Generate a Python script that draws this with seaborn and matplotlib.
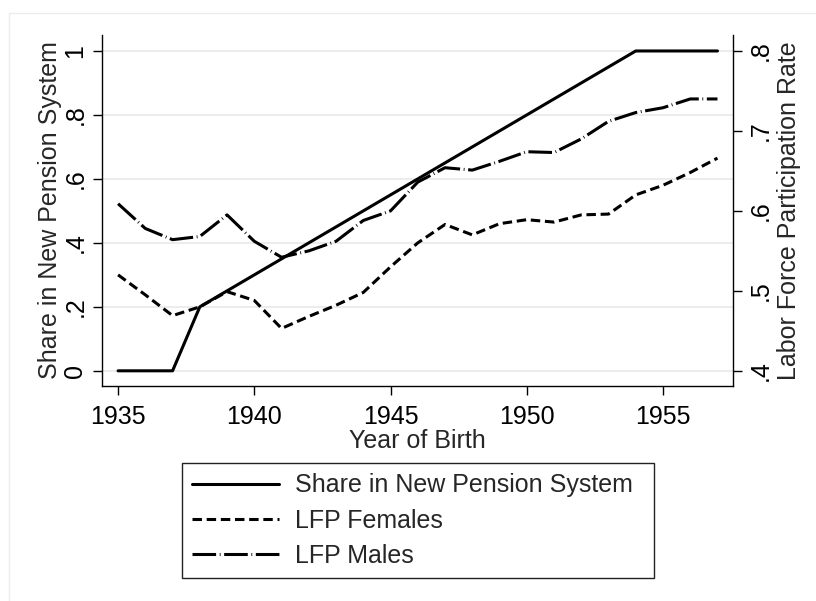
import pandas as pd
import seaborn as sns
import matplotlib.pyplot as plt
from matplotlib.patches import Rectangle

# valores
anos = list(range(1935, 1958))
share_pension = [0, 0, 0, 0.20, 0.25, 0.30, 0.35, 0.40, 0.45, 0.50, 0.55, 0.60,
                 0.65, 0.70, 0.75, 0.80, 0.85, 0.90, 0.95, 1.00, 1.00, 1.00, 1.00]
lfp_mulheres = [0.520, 0.495, 0.469, 0.480, 0.499, 0.488, 0.453, 0.468, 0.482, 0.498,
                0.530, 0.560, 0.583, 0.570, 0.584, 0.589, 0.586, 0.595, 0.596, 0.620,
                0.632, 0.648, 0.666]
lfp_homens = [0.609, 0.578, 0.564, 0.568, 0.595, 0.562, 0.542, 0.550, 0.562, 0.588,
              0.600, 0.636, 0.654, 0.651, 0.662, 0.674, 0.673, 0.690, 0.712, 0.723,
              0.729, 0.740, 0.740]

df = pd.DataFrame({'ano': anos, 'share': share_pension,
                   'fem': lfp_mulheres, 'masc': lfp_homens})

sns.set_theme(style='white')
plt.rcParams['font.family'] = ['Liberation Sans', 'DejaVu Sans']
plt.rcParams['lines.scale_dashes'] = False
fs = 18

fig = plt.figure(figsize=(8.16, 6.01), dpi=100)
ax = fig.add_axes([0.125, 0.358, 0.7733, 0.5838])
ax2 = ax.twinx()

lw = 2.2
sns.lineplot(data=df, x='ano', y='share', ax=ax, color='black', lw=lw,
             label='Share in New Pension System', legend=False)
sns.lineplot(data=df, x='ano', y='fem', ax=ax2, color='black', lw=lw,
             linestyle=(0, (6.8, 3.4)), label='LFP Females', legend=False)
sns.lineplot(data=df, x='ano', y='masc', ax=ax2, color='black', lw=lw,
             linestyle=(0, (17, 2.6, 0.6, 2.6)), label='LFP Males', legend=False)

ylo, yhi = -0.047, 1.05
ax.set_ylim(ylo, yhi)
ax2.set_ylim(0.4 + 0.4 * ylo, 0.4 + 0.4 * yhi)
ax.set_xlim(1934.41, 1957.57)

ax.set_yticks([0, 0.2, 0.4, 0.6, 0.8, 1.0])
ax.set_yticklabels(['0', '.2', '.4', '.6', '.8', '1'], rotation=90, va='center')
ax2.set_yticks([0.4, 0.5, 0.6, 0.7, 0.8])
ax2.set_yticklabels(['.4', '.5', '.6', '.7', '.8'], rotation=90, va='center')
ax.set_xticks([1935, 1940, 1945, 1950, 1955])
ax.set_xticklabels(['1935', '1940', '1945', '1950', '1955'])

ax.grid(axis='y', color='#e9e9e9', lw=1.2)
ax.set_axisbelow(True)

for a in (ax, ax2):
    a.tick_params(labelsize=fs, colors='black', direction='out', length=6.5, width=1)
    for s in a.spines.values():
        s.set_color('black')
        s.set_linewidth(1)
ax.tick_params(axis='y', pad=4)
ax.tick_params(axis='x', pad=7.5)
ax2.tick_params(axis='y', pad=5)
ax.spines['top'].set_visible(False)
ax2.spines['top'].set_visible(False)
ax.spines['right'].set_visible(False)
ax2.spines['left'].set_visible(False)
ax2.spines['bottom'].set_visible(False)
ax.tick_params(axis='y', left=True, right=False)
ax.tick_params(axis='x', bottom=True)
ax2.tick_params(axis='y', right=True)

ax.set_xlabel('Year of Birth', fontsize=fs, labelpad=0)
ax.set_ylabel('Share in New Pension System', fontsize=fs, labelpad=1)
ax2.set_ylabel('Labor Force Participation Rate', fontsize=fs, labelpad=3)

handles = ax.get_lines()[:1] + ax2.get_lines()[:2]
leg = fig.legend(handles=handles, labels=[h.get_label() for h in handles],
                 loc='lower left', bbox_to_anchor=(0.223, 0.0383, 0.578, 0.188),
                 mode='expand', ncol=1, fontsize=fs, frameon=True, fancybox=False,
                 shadow=False, framealpha=1, edgecolor='#222222',
                 handlelength=3.48, handletextpad=0.64, borderpad=0.4,
                 labelspacing=0.45, borderaxespad=0)
leg.get_frame().set_linewidth(1)

# moldura clara da regiao do grafico
fig.patches.append(Rectangle((9 / 816, -0.1), 1.2, 1.1 - 13 / 601,
                             transform=fig.transFigure, fill=False,
                             edgecolor='#ececec', lw=1, zorder=0))

fig.savefig('out.png', dpi=100)
